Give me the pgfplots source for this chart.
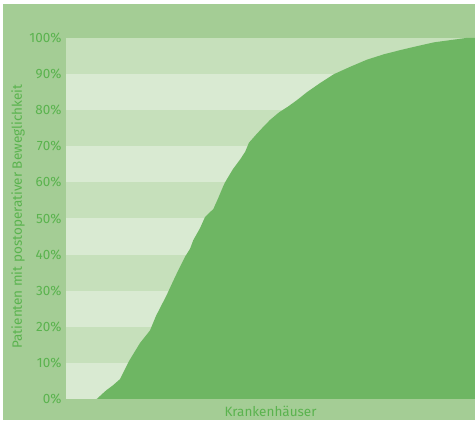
\documentclass[border=0pt]{standalone}
\usepackage{fontspec}
\setmainfont{Fira Sans}
\usepackage{pgfplots}
\pgfplotsset{compat=1.18}

\definecolor{outerbg}{HTML}{A4CD95}
\definecolor{banddark}{HTML}{C6E0BB}
\definecolor{bandlight}{HTML}{D9EAD2}
\definecolor{areagreen}{HTML}{6EB663}
\definecolor{textgreen}{HTML}{5AB34E}

\begin{document}
\begin{tikzpicture}
  % frame and outer green background (1pt = 1px of the reference)
  \fill[white] (0,0) rectangle (475pt,421pt);
  \fill[outerbg] (3pt,1pt) rectangle (475pt,417pt);

  \begin{axis}[
      at={(66pt,22pt)}, anchor=south west,
      width=409pt, height=361pt, scale only axis,
      xmin=0, xmax=100, ymin=0, ymax=100,
      axis background/.style={fill=bandlight},
      axis line style={draw=none},
      tick style={draw=none},
      xtick=\empty,
      ytick={0,10,...,100},
      yticklabel={\pgfmathprintnumber{\tick}\%},
      /pgf/number format/assume math mode=true,
      yticklabel style={anchor=east, xshift=-1pt},
      ticklabel style={font=\fontsize{13.5}{15}\selectfont, text=textgreen},
      label style={font=\fontsize{13.5}{15}\selectfont, text=textgreen},
      xlabel={Krankenhäuser},
      ylabel={Patienten mit postoperativer Beweglichkeit},
      xlabel style={at={(axis description cs:0.5,0)}, anchor=center, yshift=-12pt},
      ylabel style={at={(axis description cs:0,0.5)}, anchor=center, yshift=48pt, xshift=2pt},
      clip=true,
    ]

    % alternating horizontal bands
    \pgfplotsinvokeforeach{10,30,50,70,90}{
      \fill[banddark] (axis cs:0,#1) rectangle (axis cs:100,#1+10);
    }

    % cumulative share of patients over hospitals (sorted)
    \addplot[fill=areagreen, draw=none] coordinates {
      (7.51,0) (9.05,1.6) (9.95,2.5) (11.49,3.8) (13.20,5.5)
      (15.40,10.5) (18.09,15.5) (20.54,19.0) (22.00,23.0) (24.62,28.8)
      (25.92,32.0) (27.38,35.5) (29.10,39.4) (30.32,41.6) (31.12,44.0)
      (32.76,47.3) (33.99,50.4) (34.96,51.5) (36.01,52.6) (37.16,55.5)
      (38.46,59.0) (38.88,60.0) (40.83,63.7) (42.54,66.3) (43.77,68.4)
      (44.74,71.0) (46.21,72.9) (47.92,75.0) (49.88,77.3) (52.08,79.4)
      (54.28,81.0) (56.48,82.8) (58.92,85.0) (62.10,87.5) (65.53,90.0)
      (69.44,92.0) (73.59,94.0) (77.75,95.5) (81.91,96.7) (86.06,97.8)
      (89.98,98.8) (93.89,99.4) (97.80,100) (100,100)
    } \closedcycle;
  \end{axis}
\end{tikzpicture}
\end{document}
